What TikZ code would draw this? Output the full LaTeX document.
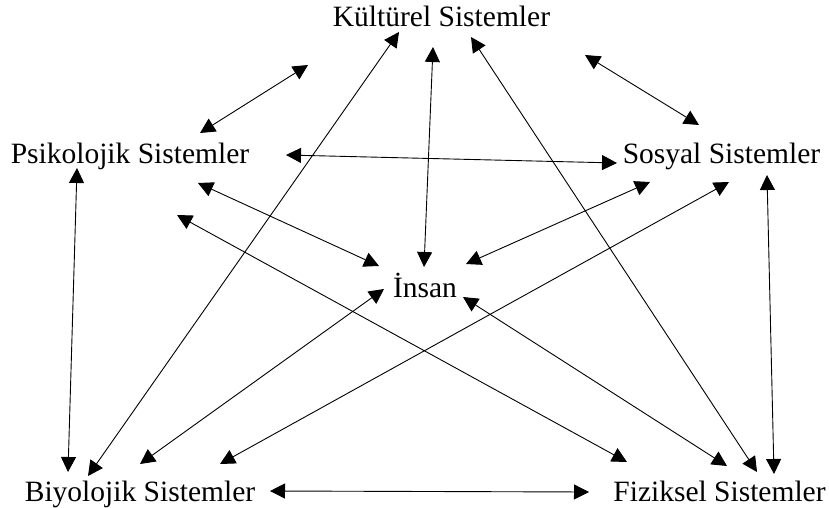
\documentclass[tikz,border=0pt]{standalone}
\usepackage{fontspec}
\setmainfont{Liberation Serif}
\usetikzlibrary{arrows.meta}
\begin{document}
\begin{tikzpicture}[x=1pt,y=-1pt,
  lbl/.style={anchor=base,inner sep=0pt,font=\fontsize{29.5}{30}\selectfont},
  dbl/.style={{Triangle[length=15pt,width=15pt]}-{Triangle[length=15pt,width=15pt]},line width=0.9pt}]
\useasboundingbox (0,0) rectangle (829,508);
\node[lbl] (K) at (441.5,27) {Kültürel Sistemler};
\node[lbl] (P) at (130,163) {Psikolojik Sistemler};
\node[lbl] (S) at (721.5,163) {Sosyal Sistemler};
\node[lbl] (I) at (425,297) {İnsan};
\node[lbl] (B) at (140,501) {Biyolojik Sistemler};
\node[lbl] (F) at (719.5,501) {Fiziksel Sistemler};
% Kültürel
\draw[dbl] ([shift={(-133.5,38)}]K.base) -- ([shift={(70,-30)}]P.base);
\draw[dbl] ([shift={(143.5,28)}]K.base) -- ([shift={(-22.5,-38)}]S.base);
\draw[dbl] ([shift={(-8.5,20)}]K.base) -- ([shift={(-1,-30)}]I.base);
\draw[dbl] ([shift={(-42.5,5)}]K.base) -- ([shift={(-52,-25)}]B.base);
\draw[dbl] ([shift={(29.5,10)}]K.base) -- ([shift={(37.5,-29)}]F.base);
% Psikolojik
\draw[dbl] ([shift={(156,-8)}]P.base) -- ([shift={(-104.5,0)}]S.base);
\draw[dbl] ([shift={(68,20)}]P.base) -- ([shift={(-46,-31)}]I.base);
\draw[dbl] ([shift={(-53,5)}]P.base) -- ([shift={(-72,-29)}]B.base);
\draw[dbl] ([shift={(47,52)}]P.base) -- ([shift={(-92.5,-39)}]F.base);
% Sosyal
\draw[dbl] ([shift={(-71.5,19)}]S.base) -- ([shift={(41,-33)}]I.base);
\draw[dbl] ([shift={(7.5,19)}]S.base) -- ([shift={(80,-37)}]B.base);
\draw[dbl] ([shift={(45.5,12)}]S.base) -- ([shift={(54.5,-27)}]F.base);
% Insan
\draw[dbl] ([shift={(-41,-8)}]I.base) -- ([shift={(0,-37)}]B.base);
\draw[dbl] ([shift={(38,0)}]I.base) -- ([shift={(7.5,-35)}]F.base);
% Biyolojik - Fiziksel
\draw[dbl] ([shift={(130,-10)}]B.base) -- ([shift={(-130.5,-9)}]F.base);
\end{tikzpicture}
\end{document}
